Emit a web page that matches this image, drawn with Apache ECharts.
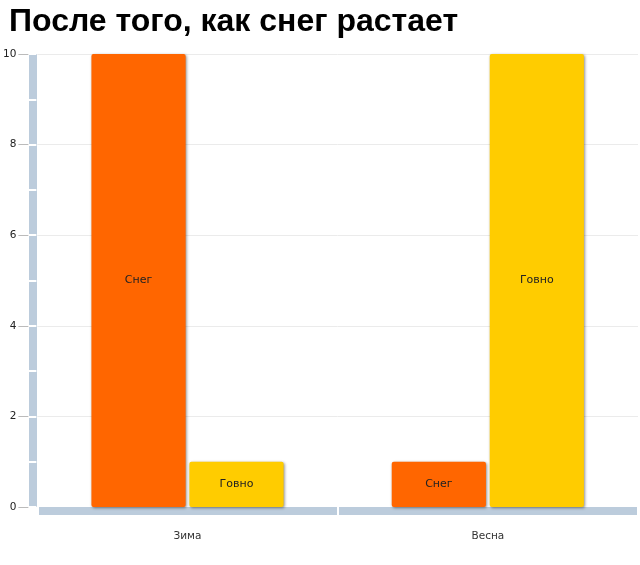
<!DOCTYPE html>
<html><head><meta charset="utf-8">
<script src="https://cdn.jsdelivr.net/npm/echarts@6/dist/echarts.min.js"></script>
<style>html,body{margin:0;padding:0;background:#fff}#c{width:640px;height:565px}</style>
</head><body><div id="c"></div>
<script>
const titleText = 'После того, как снег растает';
const categories = ['Зима', 'Весна'];
const seriesNames = ['Снег', 'Говно'];
const snowValues = [10, 1];
const shitValues = [1, 10];
const colors = ['#FF6600', '#FFCC00'];

const chart = echarts.init(document.getElementById('c'));
const barStyle = (c) => ({
  color: c, borderRadius: 2,
  shadowBlur: 3, shadowColor: 'rgba(0,0,0,0.45)', shadowOffsetX: 1, shadowOffsetY: 1
});
const lbl = { show: true, position: 'inside', formatter: '{a}', color: '#222', fontSize: 11, fontFamily: 'DejaVu Sans' };
chart.setOption({
  animation: false,
  title: { text: titleText, left: 4, top: 1, textStyle: { fontSize: 32, fontWeight: 'bold', color: '#000', fontFamily: 'Liberation Sans' } },
  grid: { left: 36, right: 2, top: 54, bottom: 58, containLabel: false },
  xAxis: [
    { type: 'category', data: categories, offset: 4,
      axisLine: { onZero: false, lineStyle: { color: '#BCCCDC', width: 8, cap: 'butt' } },
      axisTick: { show: false },
      axisLabel: { show: false } },
    { type: 'category', data: categories, position: 'bottom', offset: 8,
      axisLine: { show: false, onZero: false },
      axisTick: { show: true, inside: true, length: 8, lineStyle: { color: '#fff', width: 2 } },
      axisLabel: { margin: 16, fontSize: 10.5, color: '#333', fontFamily: 'DejaVu Sans' } }
  ],
  yAxis: [
    { type: 'value', min: 0, max: 10, interval: 2, offset: 5,
      axisLine: { show: true, onZero: false, lineStyle: { color: '#BCCCDC', width: 8, cap: 'butt' } },
      axisTick: { show: true, length: 14, lineStyle: { color: '#BBBBBB' } },
      axisLabel: { margin: 16, fontSize: 10.5, color: '#222', fontFamily: 'DejaVu Sans' },
      splitLine: { show: true, lineStyle: { color: '#EBEBEB' } } },
    { type: 'value', min: 0, max: 10, interval: 1, position: 'left', offset: 9,
      axisLine: { show: false, onZero: false },
      axisTick: { show: true, inside: true, length: 8, lineStyle: { color: '#fff', width: 2 } },
      axisLabel: { show: false },
      splitLine: { show: false } }
  ],
  series: [
    { name: seriesNames[0], type: 'bar', data: snowValues, xAxisIndex: 0, yAxisIndex: 0,
      barCategoryGap: '36%', barGap: '4%', itemStyle: barStyle(colors[0]), label: lbl },
    { name: seriesNames[1], type: 'bar', data: shitValues, xAxisIndex: 0, yAxisIndex: 0,
      barCategoryGap: '36%', barGap: '4%', itemStyle: barStyle(colors[1]), label: lbl }
  ]
});
</script></body></html>
